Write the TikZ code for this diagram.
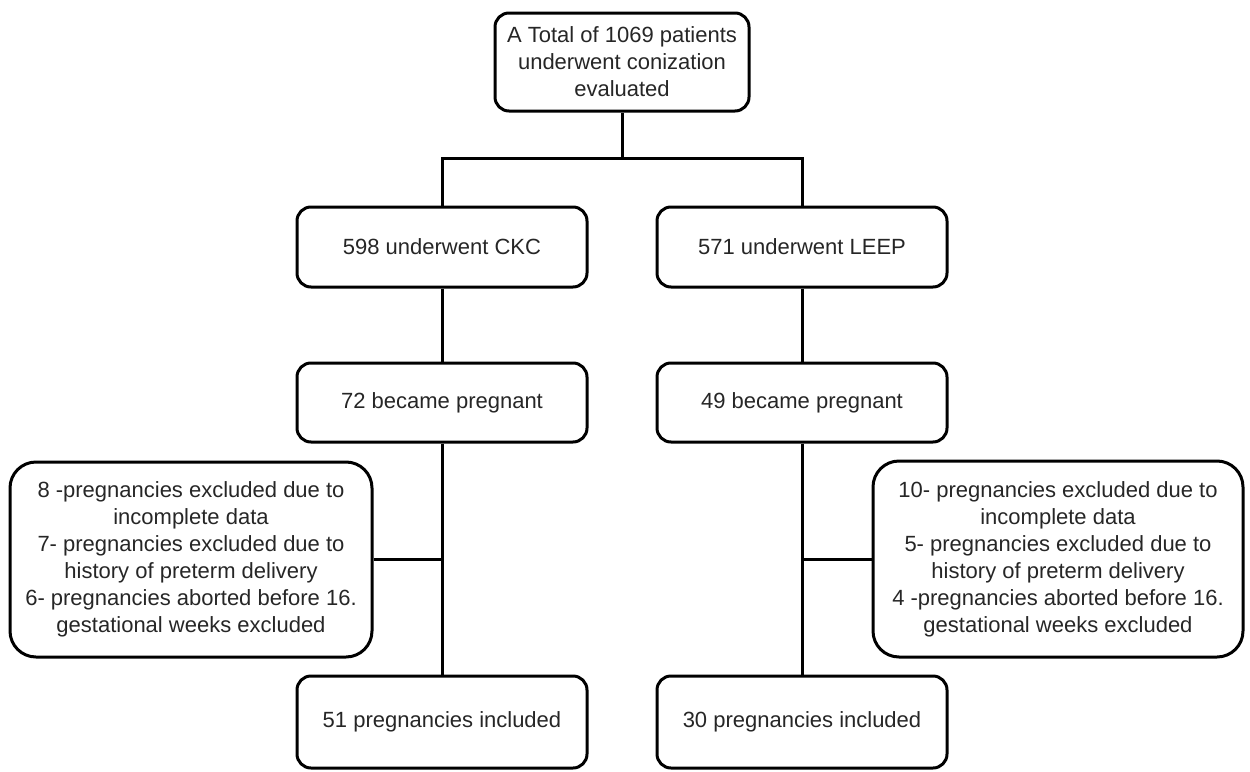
\documentclass[tikz,border=0pt]{standalone}
\usepackage{fontspec}
\setmainfont{Liberation Sans}
\begin{document}
\begin{tikzpicture}[x=1pt, y=-1pt, line width=3pt,
        box/.style = {draw, rounded corners=14pt, align=center, minimum width=290pt, minimum height=80pt, inner sep=0pt, text=black!85, font=\fontsize{22}{27}\selectfont},
        wide/.style = {box, rounded corners=26pt}]
        \useasboundingbox (0,0) rectangle (1250,771);
        \node[box, minimum width=254pt, minimum height=98pt] (total) at (622,62) {A Total of 1069 patients\\underwent conization\\evaluated};
        \node[box] (ckc) at (442,247) {598 underwent CKC};
        \node[box] (leep) at (802,247) {571 underwent LEEP};
        \node[box, minimum height=79pt] (pregckc) at (442,402.5) {72 became pregnant};
        \node[box, minimum height=79pt] (pregleep) at (802,402.5) {49 became pregnant};
        \node[wide, minimum width=362pt, minimum height=195pt] (exckc) at (191,559.5) {8 -pregnancies excluded due to\\incomplete data\\7- pregnancies excluded due to\\history of preterm delivery\\6- pregnancies aborted before 16.\\gestational weeks excluded};
        \node[wide, minimum width=370pt, minimum height=196pt] (exleep) at (1058,559) {10- pregnancies excluded due to\\incomplete data\\5- pregnancies excluded due to\\history of preterm delivery\\4 -pregnancies aborted before 16.\\gestational weeks excluded};
        \node[box, minimum height=92pt] (inckc) at (442,722) {51 pregnancies included};
        \node[box, minimum height=92pt] (incleep) at (802,722) {30 pregnancies included};
        \coordinate (split) at (622,158);
        \draw (total) -- (split);
        \draw (ckc.north) |- (split) -| (leep.north);
        \draw (ckc) -- (pregckc);
        \draw (leep) -- (pregleep);
        \draw (pregckc) -- (inckc);
        \draw (pregleep) -- (incleep);
        \draw (exckc.east) -- (exckc.east -| pregckc.south);
        \draw (exleep.west) -- (exleep.west -| pregleep.south);
    \end{tikzpicture}
\end{document}
